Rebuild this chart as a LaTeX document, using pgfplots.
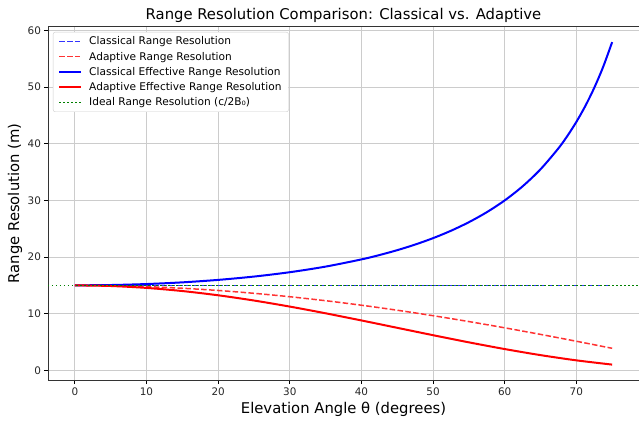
\documentclass[border=0pt]{standalone}
\usepackage{pgfplots}
\pgfplotsset{compat=1.18}
\usepackage{fontspec}
\setmainfont{DejaVu Sans}
\definecolor{mplgreen}{rgb}{0,0.5,0}
\definecolor{mplblue}{rgb}{0,0,1}
\definecolor{mplred}{rgb}{1,0,0}
\definecolor{lblue}{rgb}{0.2,0.2,1}
\definecolor{lred}{rgb}{1,0.2,0.2}
\definecolor{gridgray}{rgb}{0.8,0.8,0.8}
\begin{document}
\begin{tikzpicture}[x=1pt,y=1pt]
\path[use as bounding box] (-48,-43.3) rectangle (591,380.7);
\begin{axis}[
  at={(0,0)}, anchor=south west,
  scale only axis, width=591pt, height=354.7pt,
  xmin=-3.75, xmax=78.75, ymin=-1.84, ymax=60.8,
  xtick={0,10,...,70}, ytick={0,10,...,60},
  grid=major, major grid style={gridgray, line width=0.8pt},
  tick align=outside, tick pos=left,
  major tick length=3.5pt,
  tick style={black, line width=0.8pt},
  axis line style={line width=0.8pt, black!80},
  /pgf/number format/assume math mode=true,
  ticklabel style={font=\fontsize{10.4}{12}\selectfont, text=black!85},
  xlabel={Elevation Angle θ (degrees)},
  ylabel={Range Resolution (m)},
  every axis x label/.style={at={(axis description cs:0.5,0)}, yshift=-28.6pt, anchor=center, font=\fontsize{14.8}{17}\selectfont},
  every axis y label/.style={at={(axis description cs:0,0.5)}, xshift=-33pt, rotate=90, anchor=center, font=\fontsize{14.8}{17}\selectfont},
  title={Range Resolution Comparison: Classical vs. Adaptive},
  every axis title/.style={at={(axis description cs:0.5,1)}, anchor=base, yshift=6pt, font=\fontsize{14.8}{17}\selectfont},
  legend style={at={(axis description cs:0,1)}, anchor=north west, xshift=5pt, yshift=-6pt,
    font=\fontsize{10.6}{12.5}\selectfont, draw=gridgray, rounded corners=2pt,
    fill=white, row sep=1.7pt, inner xsep=5pt, inner ysep=2.5pt,
    /tikz/every odd column/.append style={column sep=5pt}},
  legend cell align=left,
  legend image code/.code={\draw[#1] (0pt,0pt) -- (22pt,0pt);},
]
% Classical Range Resolution (constant)
\addplot[lblue, line width=1.5pt, dash pattern=on 5.5pt off 2.4pt] coordinates {
(0,15) (75,15)};
\addlegendentry{Classical Range Resolution}
% Adaptive Range Resolution
\addplot[lred, line width=1.5pt, dash pattern=on 5.5pt off 2.4pt, smooth] coordinates {
(0,15) (5,14.943) (10,14.772) (15,14.489) (20,14.095) (25,13.595) (30,12.990)
(35,12.287) (40,11.491) (45,10.607) (50,9.642) (55,8.604) (60,7.5) (65,6.339)
(70,5.130) (75,3.882)};
\addlegendentry{Adaptive Range Resolution}
% Classical Effective Range Resolution
\addplot[mplblue, line width=2pt, smooth] coordinates {
(0,15) (5,15.057) (10,15.231) (15,15.529) (20,15.963) (25,16.551) (30,17.321)
(35,18.311) (40,19.581) (42.5,20.345) (45,21.213) (47.5,22.203) (50,23.336)
(52.5,24.640) (55,26.152) (57.5,27.917) (60,30.0) (62.5,32.485) (65,35.493)
(67.5,39.197) (68.75,41.39) (70,43.857) (71.25,46.66) (72.5,49.882) (73.75,53.60) (75,57.956)};
\addlegendentry{Classical Effective Range Resolution}
% Adaptive Effective Range Resolution
\addplot[mplred, line width=2pt, smooth] coordinates {
(0,15) (5,14.886) (10,14.548) (15,13.995) (20,13.245) (25,12.321) (30,11.25)
(35,10.065) (40,8.802) (45,7.5) (50,6.198) (55,4.935) (60,3.75) (65,2.679)
(70,1.755) (75,1.005)};
\addlegendentry{Adaptive Effective Range Resolution}
% Ideal
\addplot[mplgreen, line width=1.5pt, dash pattern=on 1.5pt off 2.5pt] coordinates {
(-3.75,15) (78.75,15)};
\addlegendentry{Ideal Range Resolution (c/2B₀)}
\end{axis}
\end{tikzpicture}
\end{document}
